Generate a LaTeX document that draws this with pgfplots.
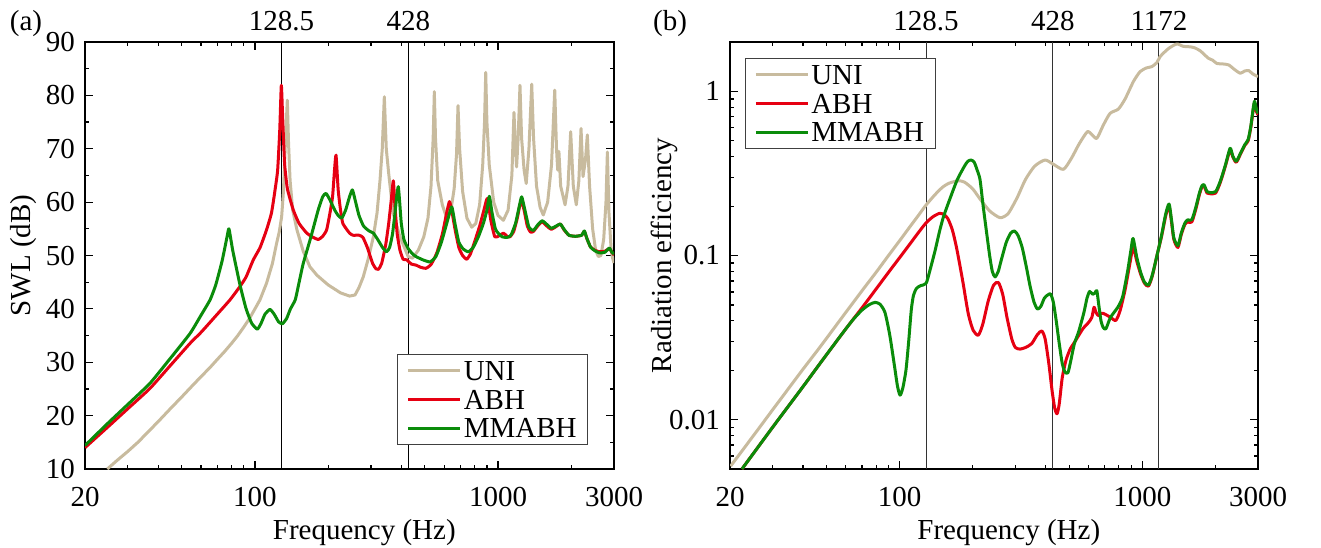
\documentclass[border=0pt]{standalone}
\usepackage{fontspec}
\setmainfont{Liberation Serif}
\usepackage{pgfplots}
\pgfplotsset{compat=1.18}
\definecolor{uni}{RGB}{200,187,158}
\definecolor{abh}{RGB}{230,0,18}
\definecolor{mma}{RGB}{10,140,10}
\begin{document}
\fontsize{14.5}{17}\selectfont
\begin{tikzpicture}
\useasboundingbox (0,0) rectangle (660.5pt,273.5pt);
\node[anchor=base] at (13pt,258pt) {(a)};
\node[anchor=base] at (335pt,258pt) {(b)};
% ---------------- (a) ----------------
\begin{axis}[scale only axis, anchor=south west, at={(42.5pt,39pt)}, width=264.5pt, height=213.5pt,
  xmode=log, xmin=20, xmax=3000,
  xtick={20,100,1000,3000}, xticklabels={20,100,1000,3000},
  minor xtick={30,40,50,60,70,80,90,200,300,400,500,600,700,800,900,2000},
  tick align=inside, major tick length=4pt, minor tick length=2pt,
  every tick/.append style={black, line width=0.6pt},
  axis line style={line width=1pt},
  /pgf/number format/assume math mode=true,
  xticklabel style={anchor=base, yshift=-18.5pt},
  xlabel={Frequency (Hz)},
  xlabel style={at={(axis description cs:0.528,-0.164)}, anchor=base},
  clip mode=individual,
  ymin=10, ymax=90, ytick={10,20,30,40,50,60,70,80,90}, minor ytick={15,25,35,45,55,65,75,85},
  ylabel={SWL (dB)}, ylabel style={at={(axis description cs:-0.117,0.5)}, anchor=center},
  legend cell align=left,
  legend image code/.code={\draw[#1] (0pt,0pt) -- (26pt,0pt);},
  legend style={draw=black!75, line width=0.5pt, inner xsep=4.5pt, inner ysep=2.3pt, row sep=2.5pt,
    nodes={inner sep=1pt, text height=9.8pt, text depth=0pt},
    at={(axis description cs:0.951,0.056)}, anchor=south east}]
\addplot[black, line width=0.5pt, forget plot] coordinates {(128.5,10) (128.5,90)};
\addplot[black, line width=0.5pt, forget plot] coordinates {(428,10) (428,90)};
\addplot[uni, line width=1.5pt, line join=round] table {
24.7 10
27 11.55
30 13.3
33 15
37 17.3
41 19.4
45 21.35
50 23.5
55 25.5
60 27.3
65 28.9
69.6 30.4
75 32
80 33.5
85 35
90 36.6
95 38.2
100 40
104.9 41.7
111.6 44.8
118 48.5
122.8 52.3
126 54.5
128.8 57.3
131 62
132.4 67.3
134 73
135.9 79.1
137.5 71
139.5 64.1
143 58.5
148.9 54.8
158 50.8
168.3 47.9
180 46.3
200 44.5
225 43
245 42.4
258 42.6
268 44
279 46
293 49.5
307 53.5
318 58
327 64.1
334 70
340.6 79.75
347 70
355 65.4
370 58
395 53.5
427 49.8
445 49.5
470 51
495 53.5
515 57
530 63
541 72
547 80.7
553 72
565 64
590 59.5
615 57
640 58.5
660 62.5
675 69
684.6 78.1
695 70
715 62
745 57
779.5 55.3
810 56
840 59.5
865 67
880 75
890 84.3
900 75
920 67
960 60
1000 57.5
1052 56.6
1100 58.5
1140 65
1163 76.8
1180 70
1192 66.6
1210 72
1231 81.9
1250 72
1280 66
1306 63.5
1340 70
1376 82.1
1400 72
1440 63
1490 59
1535 57.6
1600 60
1660 67
1711 81
1740 70
1760 66
1780 69.5
1810 63
1887 59.5
1940 63
1990 73.2
2040 63
2099 59.5
2150 64
2195 73.8
2237 64.8
2290 68
2330 72.6
2380 63
2450 55
2520 51
2586 49.8
2650 50
2720 53
2780 60
2817 69.4
2860 58
2920 51
2960 49.5
3000 48.6
};
\addlegendentry{UNI}
\addplot[abh, line width=1.5pt, line join=round, smooth, tension=0.3] table {
20 14
25 18
30 21.3
37 25.1
45 29.45
54.1 33.55
60 35.6
70 39
79 41.7
86.8 44.2
92 46
98.5 49.2
105 51.5
111.6 54.8
117 58
121 62.3
124 66
126.5 73.5
128.4 81.9
130 76
132.4 67.3
136 62.5
143.9 58.5
152 56
163.4 54.2
172 53.5
182.3 53
190 53.6
197.2 54.8
203.6 58
208.6 61
212.5 66
215.6 68.8
220 62.3
225 58.5
230 56
245 54.2
253 53.8
268 53.8
278 53.4
290 51.5
305 48.5
315 47.5
321.9 47.4
332 48.5
345 52
355 56
363 60
371 64
377 59
385 54
395 51
407 49.3
421 49.2
440 48.4
460 48.2
480 47.8
505 47.6
530 48.3
560 50.5
590 54
615 58
631 60.1
645 58.5
665 55
690 51.5
715 50
743 49.3
770 50.3
800 52.5
840 55.5
875 58.5
903.6 60.7
935 56.5
970 53.5
1010 53.7
1052 54.2
1090 53.6
1119 53.5
1160 54.5
1200 57
1230 59.5
1251 60.1
1280 58.5
1320 55.5
1360 54.4
1397 54.5
1460 55.6
1520 56.3
1590 55.5
1656 54.9
1730 55.4
1804 55.9
1870 54.8
1957 53.8
2080 53.6
2207 53.8
2266 54.5
2320 53.2
2401 51.6
2500 51
2612 50.7
2750 50.8
2870 51.3
2940 50.6
3000 50.1
};
\addlegendentry{ABH}
\addplot[mma, line width=1.5pt, line join=round, smooth, tension=0.3] table {
20 14.4
25 18.7
30 22.1
37 26.06
45 30.8
54.1 35.4
60 38.8
65.4 41.7
69 44.5
73.3 49
76.8 53.5
78.2 55
81 51
86.8 44.5
92 40
97 37.3
102.3 36.2
106 37.3
110 39
115.3 39.9
120 39
125 37.6
129.6 37.2
135 38.2
140 40
146.5 41.7
152 45
158 48.5
170 53.5
182 58.5
190 61
196 61.65
203 60.5
213 58.5
220 57.5
227.5 57
236 58.5
245 61
251.7 62.3
258 60.5
268 57.5
280 55.5
295 54.6
307 54.2
320 53
335 51.5
348 50.7
358 51.5
368 54
378 58.5
384 61.5
389 62.9
394 60
400 56
410 53
427 51.3
445 50.3
460 49.8
490 49.2
525 48.8
555 49.8
585 52.5
615 56
645 59.1
665 56
690 52.5
720 51.2
755 50.7
790 51.5
830 53.5
870 56
900 58.5
921 61.1
945 58
975 55
1001 54.2
1040 53.5
1090 53.4
1130 53.8
1180 56
1220 59
1251 61
1290 58.5
1340 55.3
1397 54.7
1460 55.8
1520 56.5
1590 55.8
1656 55.1
1730 55.5
1804 55.9
1870 54.9
1957 53.8
2080 53.6
2207 53.8
2266 54.6
2320 53.2
2401 51.6
2500 50.9
2612 50.5
2750 50.6
2870 51.4
2940 50.6
3000 50.3
};
\addlegendentry{MMABH}
\node[anchor=base, yshift=6pt] at (axis cs:128.5,90) {128.5};
\node[anchor=base, yshift=6pt] at (axis cs:428,90) {428};
\end{axis}
% ---------------- (b) ----------------
\begin{axis}[scale only axis, anchor=south west, at={(365pt,39pt)}, width=264pt, height=213.5pt,
  xmode=log, xmin=20, xmax=3000,
  xtick={20,100,1000,3000}, xticklabels={20,100,1000,3000},
  minor xtick={30,40,50,60,70,80,90,200,300,400,500,600,700,800,900,2000},
  tick align=inside, major tick length=4pt, minor tick length=2pt,
  every tick/.append style={black, line width=0.6pt},
  axis line style={line width=1pt},
  /pgf/number format/assume math mode=true,
  xticklabel style={anchor=base, yshift=-18.5pt},
  xlabel={Frequency (Hz)},
  xlabel style={at={(axis description cs:0.528,-0.164)}, anchor=base},
  clip mode=individual,
  ymode=log, ymin=0.005, ymax=2, ytick={0.01,0.1,1}, yticklabels={0.01,0.1,1},
  minor ytick={0.006,0.007,0.008,0.009,0.02,0.03,0.04,0.05,0.06,0.07,0.08,0.09,0.2,0.3,0.4,0.5,0.6,0.7,0.8,0.9,2},
  ylabel={Radiation efficiency}, ylabel style={at={(axis description cs:-0.125,0.5)}, anchor=center},
  legend cell align=left,
  legend image code/.code={\draw[#1] (0pt,0pt) -- (26pt,0pt);},
  legend style={draw=black!75, line width=0.5pt, inner xsep=4.5pt, inner ysep=2.3pt, row sep=2.5pt,
    nodes={inner sep=1pt, text height=9.8pt, text depth=0pt},
    at={(axis description cs:0.028,0.9625)}, anchor=north west}]
\addplot[black!80, line width=0.5pt, forget plot] coordinates {(128.5,0.005) (128.5,2)};
\addplot[black!80, line width=0.5pt, forget plot] coordinates {(428,0.005) (428,2)};
\addplot[black!80, line width=0.5pt, forget plot] coordinates {(1172,0.005) (1172,2)};
\addplot[uni, line width=1.5pt, line join=round, smooth, tension=0.4] table {
20.1 0.0052
25 0.008
30 0.0115
40 0.0203
47 0.0277
60 0.045
70 0.061
80 0.079
90 0.1
100 0.123
110 0.149
120 0.177
128.5 0.203
140 0.235
150 0.26
160 0.276
174.6 0.2855
185 0.28
200 0.255
215 0.22
235 0.187
259.4 0.17
280 0.18
305 0.225
330 0.29
360 0.35
397.5 0.382
430 0.36
473 0.335
510 0.39
550 0.48
594 0.568
620 0.545
650 0.518
690 0.62
737 0.735
797 0.78
850 0.9
920 1.15
980 1.32
1040 1.39
1094 1.415
1150 1.5
1185 1.63
1280 1.82
1387 1.945
1480 1.88
1577 1.87
1650 1.84
1732 1.77
1800 1.68
1876 1.59
1950 1.55
2030 1.48
2150 1.47
2271 1.45
2400 1.36
2535 1.29
2640 1.33
2746 1.34
2850 1.28
3000 1.23
};
\addlegendentry{UNI}
\addplot[abh, line width=1.5pt, line join=round, smooth, tension=0.4] table {
22.4 0.005
30 0.009
40 0.0159
47 0.022
60 0.0357
70 0.048
80 0.0625
90 0.079
100 0.097
110 0.117
120 0.139
128.5 0.158
137 0.172
145.9 0.1806
152 0.178
158 0.168
165 0.143
172 0.11
182 0.07
192 0.044
201 0.035
211 0.0327
220 0.038
232 0.053
244 0.066
255.3 0.0685
266 0.058
277 0.042
290 0.031
300 0.0275
313.6 0.0269
330 0.0275
350 0.029
370 0.033
385.7 0.0347
398 0.031
412 0.022
425 0.015
436 0.0117
445.6 0.01086
455 0.0125
468 0.018
485 0.023
505 0.027
525.8 0.0296
550 0.033
571 0.036
600 0.039
620 0.042
633 0.0484
645 0.045
660 0.043
680 0.0445
700 0.044
740 0.042
778 0.0402
810 0.046
850 0.062
890 0.09
917 0.112
950 0.092
985 0.077
1020 0.068
1060 0.065
1100 0.075
1150 0.1
1200 0.13
1250 0.175
1290 0.2
1320 0.16
1350 0.125
1403 0.112
1450 0.135
1500 0.155
1540 0.16
1600 0.16
1660 0.19
1720 0.235
1760 0.26
1797 0.265
1850 0.24
1900 0.238
2006 0.24
2100 0.28
2200 0.35
2302 0.44
2360 0.4
2440 0.37
2550 0.42
2650 0.47
2732 0.5
2800 0.6
2870 0.78
2905 0.85
2960 0.75
3000 0.72
};
\addlegendentry{ABH}
\addplot[mma, line width=1.5pt, line join=round, smooth, tension=0.4] table {
22.4 0.005
30 0.009
40 0.0159
47 0.022
55 0.0301
60 0.0357
64.6 0.041
70 0.0465
75 0.0502
79.2 0.0518
83 0.0505
87 0.045
91 0.033
94.9 0.022
98 0.016
100.4 0.0141
103 0.0155
106.2 0.02
109 0.03
111.7 0.0465
114 0.057
117.3 0.063
122 0.0655
128.5 0.0676
133 0.08
140 0.107
146 0.14
151.6 0.172
160 0.215
172.5 0.288
185 0.35
191 0.375
197 0.382
203 0.37
209 0.33
214.5 0.29
221 0.2
228 0.14
235 0.1
241 0.08
247.4 0.0741
255 0.08
262.5 0.094
275 0.12
287 0.137
297.8 0.141
308 0.132
320 0.112
333 0.085
345 0.065
358 0.052
370 0.0472
382 0.049
395 0.055
408 0.0575
419 0.0583
430 0.052
442 0.04
455 0.029
468 0.022
480 0.0195
494 0.0193
508 0.023
525 0.029
547 0.0344
575 0.045
592 0.055
607 0.0604
625 0.058
640 0.0595
650 0.061
662 0.05
676 0.04
690 0.0365
708 0.0357
740 0.042
794 0.0485
830 0.056
870 0.08
900 0.11
917 0.127
950 0.097
985 0.079
1020 0.069
1060 0.066
1100 0.076
1150 0.1
1200 0.132
1250 0.18
1290 0.206
1320 0.165
1350 0.128
1403 0.115
1450 0.138
1500 0.158
1540 0.165
1600 0.165
1660 0.195
1720 0.24
1760 0.265
1797 0.27
1850 0.245
1900 0.242
2006 0.245
2100 0.285
2200 0.355
2302 0.45
2360 0.405
2440 0.375
2550 0.425
2650 0.475
2732 0.51
2800 0.61
2870 0.8
2905 0.87
2960 0.77
3000 0.734
};
\addlegendentry{MMABH}
\node[anchor=base, yshift=6pt] at (axis cs:128.5,2) {128.5};
\node[anchor=base, yshift=6pt] at (axis cs:428,2) {428};
\node[anchor=base, yshift=6pt] at (axis cs:1172,2) {1172};
\end{axis}
\end{tikzpicture}
\end{document}
